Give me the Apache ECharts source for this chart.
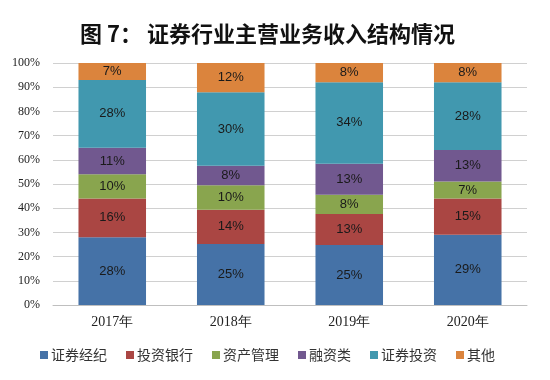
<!DOCTYPE html>
<html><head><meta charset="utf-8">
<script src="https://cdn.jsdelivr.net/npm/echarts@6/dist/echarts.min.js"></script>
<style>html,body{margin:0;padding:0;background:#fff}#c{width:550px;height:380px}</style>
</head><body><div id="c"></div>
<script>
var categories = ['2017年', '2018年', '2019年', '2020年'];
var seriesNames = ['证券经纪', '投资银行', '资产管理', '融资类', '证券投资', '其他'];
var brokerage = [28, 25, 25, 29];
var investBank = [16, 14, 13, 15];
var assetMgmt = [10, 10, 8, 7];
var financing = [11, 8, 13, 13];
var securitiesInv = [28, 30, 34, 28];
var others = [7, 12, 8, 8];
var yTicks = ['0%', '10%', '20%', '30%', '40%', '50%', '60%', '70%', '80%', '90%', '100%'];
var colors = ['#4572A7', '#AA4643', '#89A54E', '#71588F', '#4198AF', '#DB843D'];

var raw = [brokerage, investBank, assetMgmt, financing, securitiesInv, others];
var totals = categories.map(function (_, i) {
  return raw.reduce(function (s, arr) { return s + arr[i]; }, 0);
});
var series = raw.map(function (arr, k) {
  return {
    name: seriesNames[k],
    type: 'bar',
    stack: 'total',
    barWidth: '57%',
    itemStyle: { color: colors[k] },
    data: arr.map(function (v, i) { return { value: v / totals[i] * 100, raw: v }; }),
    label: {
      show: true,
      position: 'inside',
      fontFamily: 'Liberation Sans, Arial',
      fontSize: 13,
      color: '#1a1a1a',
      formatter: function (p) { return p.data.raw + '%'; }
    }
  };
});

var chart = echarts.init(document.getElementById('c'));
chart.setOption({
  animation: false,
  title: {
    text: '图 7： 证券行业主营业务收入结构情况',
    left: 75,
    top: 18,
    textStyle: { fontFamily: 'Noto Sans CJK SC', fontWeight: 'bold', fontSize: 22, color: '#111' }
  },
  legend: {
    bottom: 13,
    left: 35,
    itemWidth: 8,
    itemHeight: 8,
    itemGap: 19,
    icon: 'rect',
    textStyle: { fontFamily: 'Noto Sans CJK SC', fontSize: 14, color: '#333', padding: [0, 0, 0, -2] },
    data: seriesNames
  },
  grid: { left: 53, right: 23, top: 63, bottom: 75 },
  xAxis: {
    type: 'category',
    data: categories,
    axisLine: { lineStyle: { color: '#bfbfbf' } },
    axisTick: { show: false },
    axisLabel: { fontFamily: 'Liberation Serif, Times New Roman', fontSize: 14, color: '#222', margin: 10 }
  },
  yAxis: {
    type: 'value',
    min: 0, max: 100, interval: 10,
    axisLine: { show: false },
    axisTick: { show: false },
    splitLine: { lineStyle: { color: '#d0d0d0', width: 1 } },
    axisLabel: {
      fontFamily: 'Liberation Serif, Times New Roman', fontSize: 12, color: '#222', margin: 13,
      formatter: function (v) { return yTicks[Math.round(v / 10)]; }
    }
  },
  series: series
});
</script></body></html>
